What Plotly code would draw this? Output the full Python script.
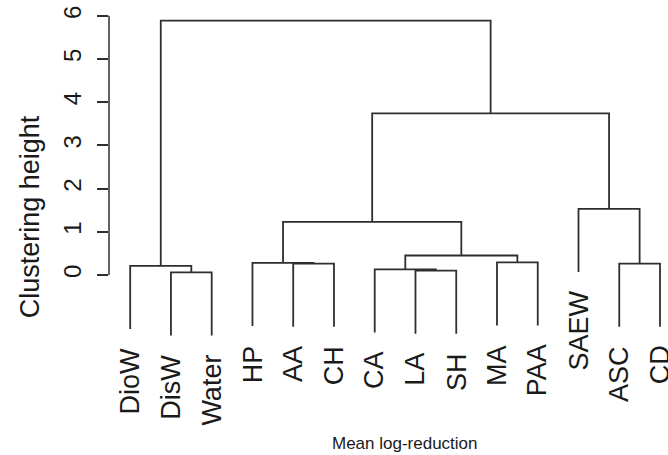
import plotly.graph_objects as go

# Leaf labels in display order
labels = ["DioW", "DisW", "Water", "HP", "AA", "CH", "CA", "LA", "SH",
          "MA", "PAA", "SAEW", "ASC", "CD"]

# hclust-style merges: negative = leaf (1-based), positive = earlier merge (1-based)
merge_left = [-2, -8, -7, -1, -5, -13, -4, -10, 3, 7, -12, 10, 4]
merge_right = [-3, -9, 2, 1, -6, -14, 5, -11, 8, 9, 6, 11, 12]
merge_height = [0.06, 0.10, 0.13, 0.21, 0.26, 0.26, 0.28, 0.29, 0.45,
                1.23, 1.53, 3.74, 5.89]
hang = 1.46

y_ticks = [0, 1, 2, 3, 4, 5, 6]
y_title = "Clustering height"
x_title = "Mean log-reduction"

n = len(labels)
leaf_x = {i + 1: i + 1 for i in range(n)}
merge_x = {}
leaf_bottom = {}

xs, ys = [], []
for k, (a, b, h) in enumerate(zip(merge_left, merge_right, merge_height), start=1):
    pts = []
    for c in (a, b):
        if c < 0:
            cx = leaf_x[-c]
            cb = h - hang
            leaf_bottom[-c] = cb
        else:
            cx = merge_x[c]
            cb = merge_height[c - 1]
        pts.append((cx, cb))
    (xl, bl), (xr, br) = pts
    xs += [xl, xl, xr, xr, None]
    ys += [bl, h, h, br, None]
    merge_x[k] = (xl + xr) / 2

line_col = "#2e2e2e"
fig = go.Figure()
fig.add_trace(go.Scatter(x=xs, y=ys, mode="lines",
                         line=dict(color=line_col, width=1.8),
                         hoverinfo="skip", showlegend=False))

ymin = min(leaf_bottom.values())
ymax = max(merge_height)
pad = 0.04 * (ymax - ymin)
xpad = 0.04 * (n - 1)

font_family = "Liberation Sans, Arial, sans-serif"
txt_col = "#1a1a1a"

annotations = []
for i, lab in enumerate(labels, start=1):
    annotations.append(dict(x=i, y=leaf_bottom[i], xref="x", yref="y",
                            text=lab, showarrow=False, textangle=-90,
                            xanchor="center", yanchor="top", yshift=-17,
                            font=dict(size=27, color=txt_col, family=font_family)))
annotations.append(dict(x=-0.141, y=0.385, xref="paper", yref="paper",
                        text=y_title, showarrow=False, textangle=-90,
                        xanchor="center", yanchor="middle",
                        font=dict(size=27, color=txt_col, family=font_family)))
annotations.append(dict(x=0.53, y=-0.28, xref="paper", yref="paper",
                        text=x_title, showarrow=False,
                        xanchor="center", yanchor="middle",
                        font=dict(size=17, color=txt_col, family=font_family)))

fig.update_layout(
    width=668, height=455,
    margin=dict(l=109, r=0, t=8, b=107, autoexpand=False),
    paper_bgcolor="white", plot_bgcolor="white",
    xaxis=dict(range=[1 - xpad, n + 0.196], visible=False, automargin=False),
    yaxis=dict(range=[ymin - pad, ymax + pad], tickvals=y_ticks,
               ticktext=[str(t) for t in y_ticks], automargin=False,
               ticks="outside", ticklen=11, tickwidth=1.5, tickcolor=line_col,
               tickangle=-90, showgrid=False, zeroline=False, showline=False,
               ticklabelstandoff=6,
               tickfont=dict(size=24, color=txt_col, family=font_family)),
    annotations=annotations,
    shapes=[dict(type="line", xref="paper", yref="y", x0=0, x1=0,
                 y0=min(y_ticks), y1=max(y_ticks),
                 line=dict(color=line_col, width=1.5))],
)

fig.write_html("out.html", config={"displayModeBar": False},
               post_script="document.body.style.margin='0';document.body.style.overflow='hidden';")
